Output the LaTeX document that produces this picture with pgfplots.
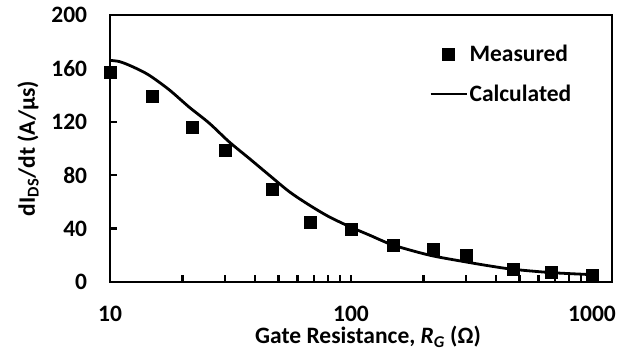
\documentclass[border=0pt]{standalone}
\usepackage{pgfplots}
\pgfplotsset{compat=1.18}
\usepackage{fontspec}
\setmainfont{Carlito}
\begin{document}
\begin{tikzpicture}
\begin{axis}[
  at={(0,0)}, anchor=south west,
  scale only axis, width=502pt, height=267pt,
  xmode=log, log basis x=10,
  xmin=10, xmax=1210, ymin=0, ymax=200,
  xtick={10,20,30,40,50,60,70,80,90,100,200,300,400,500,600,700,800,900,1000},
  xticklabels={10,{},{},{},{},{},{},{},{},100,{},{},{},{},{},{},{},{},1000},
  ytick={0,40,80,120,160,200},
  tick align=inside, xtick pos=bottom, ytick pos=left,
  major tick length=7pt,
  every tick/.style={black, line width=2.2pt},
  every major tick/.style={black, line width=2.2pt},
  axis line style={line width=2.3pt},
  /pgf/number format/assume math mode=true,
  tick label style={font=\fontsize{23.5}{27}\selectfont\bfseries},
  xticklabel style={anchor=base, yshift=-39.7pt},
  yticklabel style={anchor=east, inner sep=0pt, xshift=-22.7pt},
  every axis x label/.style={at={(axis description cs:0.514,-0.206)}, anchor=center,
    font=\fontsize{23.5}{27}\selectfont\bfseries},
  every axis y label/.style={at={(axis description cs:-0.163,0.5)}, rotate=90, anchor=center,
    font=\fontsize{23.5}{27}\selectfont\bfseries},
  xlabel={Gate Resistance, \textit{R}\textsubscript{\textit{G}} (Ω)},
  ylabel={dI\textsubscript{DS}/dt (A/µs)},
  legend style={draw=none, fill=none, at={(axis description cs:0.636,0.893)}, anchor=north west,
    font=\fontsize{23.5}{27}\selectfont\bfseries, row sep=19pt, inner sep=0pt, outer sep=0pt,
    nodes={inner sep=1.5pt}, column sep=0pt},
  legend cell align=left,
  legend image code/.code={\draw[mark repeat=2,mark phase=2,#1] plot coordinates {(0pt,0pt)(18pt,0pt)(36pt,0pt)};},
]
\addplot[only marks, mark=square*, mark size=6pt, black] coordinates {
(10,157) (15,139) (22,116) (30,98.5) (47,69.5) (68,45) (100,39.5)
(150,27.7) (220,24.5) (300,19.7) (470,9.5) (680,7.3) (1000,5.2)
};
\addlegendentry{Measured}
\addplot[smooth, black, line width=2.8pt] coordinates {
(10,166) (11,165) (12.5,161) (14.5,155) (17.6,144) (21.3,131) (25.8,119)
(31.2,105) (37.8,92.6) (45.8,80) (55.5,67.6) (67,57.7) (81,48.9)
(100,41) (119,35.2) (145,28.5) (175,24) (219,19.5) (296,15.2)
(377,12) (471,9.5) (680,7) (1000,5.5)
};
\addlegendentry{Calculated}
\end{axis}
\pgfresetboundingbox
\path[use as bounding box] (-110pt,-76pt) rectangle (531pt,282pt);
\end{tikzpicture}
\end{document}
